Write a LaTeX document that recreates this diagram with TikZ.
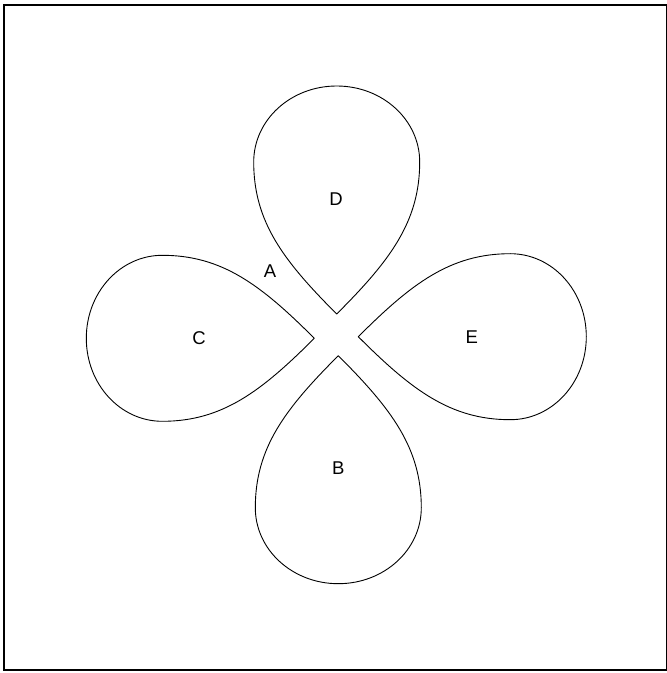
\documentclass[tikz,border=0pt]{standalone}
\usepackage{fontspec}
\setsansfont{Liberation Sans}
\usepackage{tikz}
\usetikzlibrary{positioning}
\tikzset{
  frame/.style={draw=black, line width=1.2pt},
  petal/.style={draw=black, line width=0.9pt, line join=round},
  lab/.style={font=\fontsize{18.5}{22}\selectfont\sffamily, inner sep=0pt}
}
\newcommand{\petalpath}{(0,0) .. controls (-53,53) and (-83,92) .. (-83,152)
  .. controls (-83,194) and (-46,228) .. (0,228)
  .. controls (46,228) and (83,194) .. (83,152)
  .. controls (83,92) and (53,53) .. (0,0) -- cycle}

\begin{document}
\begin{tikzpicture}[x=1pt,y=1pt]
  \useasboundingbox (0,0) rectangle (667,673);
  \draw[frame] (4,3) rectangle (666.5,668);
  % petals: tip, then turn
  \foreach \px/\py/\rot in {336.7/359/0, 338.3/317.3/180, 314.3/334.7/90, 358.3/336.3/-90}
    \draw[petal, shift={(\px,\py)}, rotate=\rot] \petalpath;
  \node[lab] (labD) at (336,473.5) {D};
  \node[lab] (labA) at (270,402) {A};
  \node[lab] (labC) at (199,334.7) {C};
  \node[lab] (labE) at (471.7,336.3) {E};
  \node[lab] (labB) at (338.3,204.7) {B};
\end{tikzpicture}
\end{document}
